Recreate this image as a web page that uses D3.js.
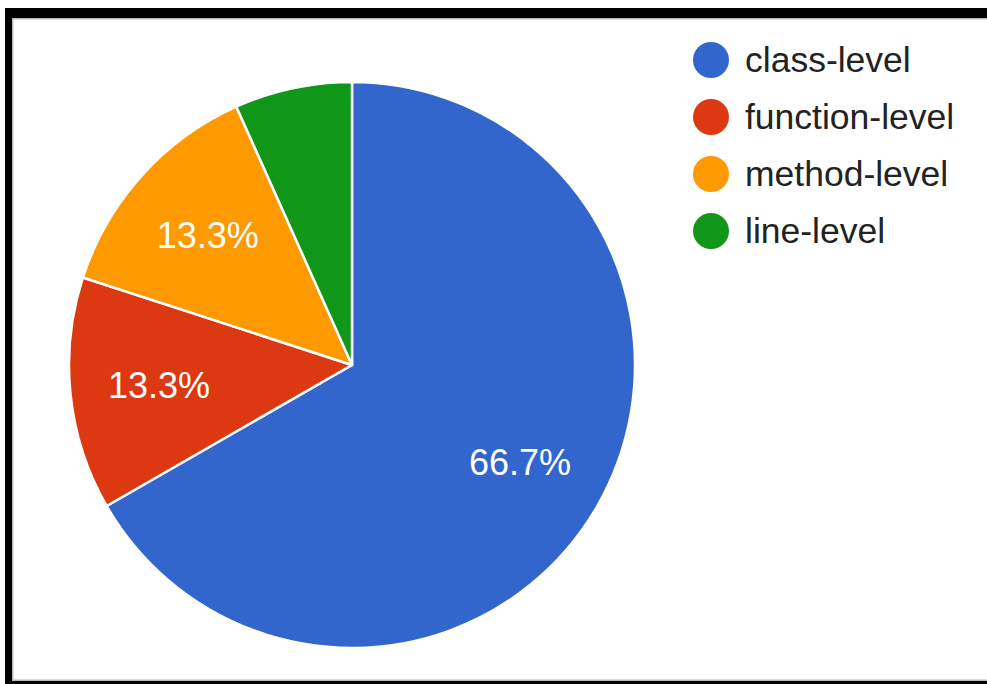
<!DOCTYPE html>
<html>
<head>
<meta charset="utf-8">
<script src="https://cdn.jsdelivr.net/npm/d3@7"></script>
<style>
  html, body { margin: 0; padding: 0; background: #fff; }
  svg { display: block; }
  text { font-family: "Liberation Sans", Arial, sans-serif; }
</style>
</head>
<body>
<svg id="chart" width="987" height="684"></svg>
<script>
// Share of edits by granularity level
const categories = ["class-level", "function-level", "method-level", "line-level"];
const shares = [66.7, 13.3, 13.3, 6.7];
const labels = ["66.7%", "13.3%", "13.3%", ""];
const colors = ["#3366cc", "#dc3912", "#ff9900", "#109618"];

const svg = d3.select("#chart");
const W = 987, H = 684;

// Frame around the chart area
svg.append("rect").attr("x", 12).attr("y", 18).attr("width", W - 12).attr("height", 1.5).attr("fill", "#bbb");
svg.append("rect").attr("x", 12).attr("y", 18).attr("width", 1.5).attr("height", H - 18).attr("fill", "#bbb");
svg.append("rect").attr("x", 12).attr("y", 679.5).attr("width", W - 12).attr("height", 1.5).attr("fill", "#bbb");
svg.append("rect").attr("x", 5).attr("y", 8).attr("width", W - 5).attr("height", 10).attr("fill", "#000");
svg.append("rect").attr("x", 5).attr("y", 8).attr("width", 7).attr("height", H - 8).attr("fill", "#000");
svg.append("rect").attr("x", 5).attr("y", 681).attr("width", W - 5).attr("height", 3).attr("fill", "#000");

// Pie
const cx = 352, cy = 365, r = 283;
const pie = d3.pie().sort(null).value(d => d)(shares);
const arc = d3.arc().innerRadius(0).outerRadius(r);
const labelArc = d3.arc().innerRadius(194).outerRadius(194);

const g = svg.append("g").attr("transform", `translate(${cx},${cy})`);
g.selectAll("path.slice")
  .data(pie)
  .join("path")
  .attr("class", "slice")
  .attr("d", arc)
  .attr("fill", (d, i) => colors[i])
  .attr("stroke", "#fff")
  .attr("stroke-width", 2.5)
  .attr("stroke-linejoin", "round");

g.selectAll("text.pct")
  .data(pie)
  .join("text")
  .attr("class", "pct")
  .attr("transform", d => `translate(${labelArc.centroid(d)})`)
  .attr("text-anchor", "middle")
  .attr("dominant-baseline", "central")
  .attr("fill", "#fff")
  .attr("font-size", 36)
  .text((d, i) => labels[i]);

// Legend
const legend = svg.append("g").attr("transform", "translate(711,60)");
const rows = legend.selectAll("g.row")
  .data(categories)
  .join("g")
  .attr("class", "row")
  .attr("transform", (d, i) => `translate(0,${i * 57})`);
rows.append("circle").attr("r", 18).attr("fill", (d, i) => colors[i]);
rows.append("text")
  .attr("x", 34)
  .attr("dy", "0.35em")
  .attr("font-size", 35.5)
  .attr("fill", "#222")
  .text(d => d);
</script>
</body>
</html>
